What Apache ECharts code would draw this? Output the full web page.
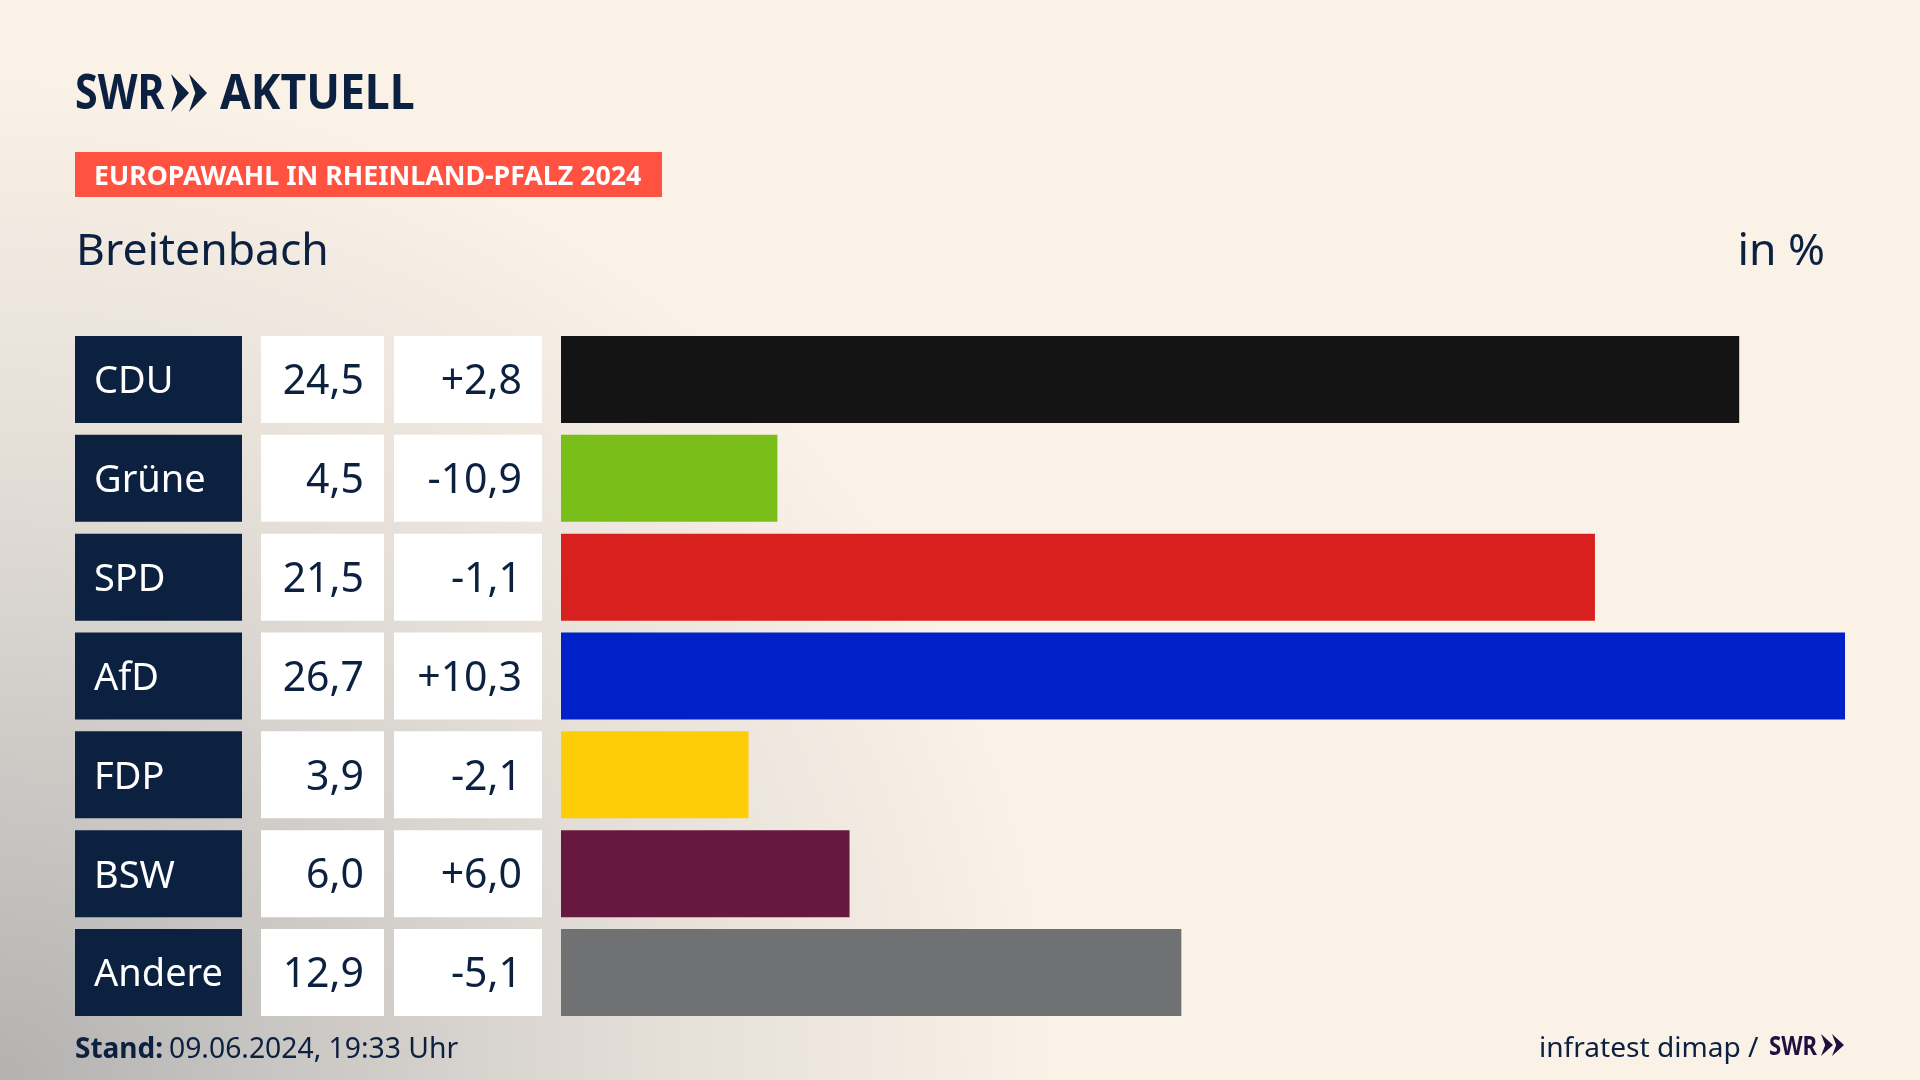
<!DOCTYPE html>
<html lang="de">
<head>
<meta charset="utf-8">
<title>Europawahl in Rheinland-Pfalz 2024 - Breitenbach</title>
<script src="https://cdn.jsdelivr.net/npm/echarts@6/dist/echarts.min.js"></script>
<style>
    html, body { margin: 0; padding: 0; }
    #chart {
        width: 1920px;
        height: 1080px;
        background-color: #faf1e7;
        background-image: radial-gradient(ellipse 1050px 1000px at 0 1080px, #b3b2b1 0%, #cfccc8 35%, #e6e0d9 65%, #faf1e7 100%);
    }
</style>
</head>
<body>
<div id="chart"></div>
<script>
// Daten
const categories = ['CDU', 'Grüne', 'SPD', 'AfD', 'FDP', 'BSW', 'Andere'];
const shares = [24.5, 4.5, 21.5, 26.7, 3.9, 6.0, 12.9];
const changes = [2.8, -10.9, -1.1, 10.3, -2.1, 6.0, -5.1];
const partyColors = ['#141414', '#7abe1a', '#d8201e', '#0020c8', '#ffcc08', '#66183e', '#707173'];

const NAVY = '#0c2040';
const FONT = '"Noto Sans", sans-serif';
const ROW_H = 87;

const fmt = v => v.toFixed(1).replace('.', ',');
const fmtChange = v => (v > 0 ? '+' : '') + fmt(v);

// Tabellenspalte links neben den Balken, Zeilenlage kommt von der Kategorieachse
function cellSeries(texts, left, right, fill, color, align, size) {
    return {
        type: 'custom',
        silent: true,
        clip: false,
        data: texts.map((t, i) => [0, i]),
        encode: { x: 0, y: 1 },
        renderItem: (params, api) => {
            const cy = api.coord([0, api.value(1)])[1];
            return {
                type: 'group',
                children: [
                    { type: 'rect', shape: { x: left, y: cy - ROW_H / 2, width: right - left, height: ROW_H }, style: { fill: fill } },
                    {
                        type: 'text',
                        style: {
                            x: align === 'left' ? left + 19 : right - 20,
                            y: cy + 3,
                            text: texts[params.dataIndex],
                            fill: color,
                            font: size + 'px ' + FONT,
                            align: align,
                            verticalAlign: 'middle'
                        }
                    }
                ]
            };
        }
    };
}

function chevrons(x, y0, y1, w, step, color) {
    const mid = (y0 + y1) / 2;
    return [0, 1].map(n => {
        const l = x + n * step;
        return {
            type: 'polygon',
            silent: true,
            shape: { points: [[l, y0], [l + w, mid], [l, y1], [l + w * 0.35, mid]] },
            style: { fill: color }
        };
    });
}

// y ist die vertikale Mitte der Zeile; sx staucht die Schrift horizontal
function label(text, x, y, font, color, align, sx) {
    return {
        type: 'text',
        silent: true,
        x: x,
        y: y,
        scaleX: sx || 1,
        style: { x: 0, y: 0, text: text, font: font, fill: color, align: align || 'left', verticalAlign: 'middle' }
    };
}

const chart = echarts.init(document.getElementById('chart'), null, { renderer: 'canvas' });

chart.setOption({
    animation: false,
    grid: { left: 561, top: 330, width: 1284, height: 692 },
    xAxis: { type: 'value', min: 0, max: 26.7, show: false },
    yAxis: { type: 'category', data: categories, inverse: true, show: false },
    series: [
        {
            type: 'bar',
            silent: true,
            barWidth: ROW_H,
            data: shares.map((v, i) => ({ value: v, itemStyle: { color: partyColors[i] } }))
        },
        cellSeries(categories, 75, 242, NAVY, '#ffffff', 'left', 38),
        cellSeries(shares.map(fmt), 261, 384, '#ffffff', NAVY, 'right', 41),
        cellSeries(changes.map(fmtChange), 394, 542, '#ffffff', NAVY, 'right', 41)
    ],
    graphic: [
        label('SWR', 75, 95, 'bold 49px ' + FONT, NAVY, 'left', 0.84),
        ...chevrons(171, 74, 112, 18, 18, NAVY),
        label('AKTUELL', 220, 95, 'bold 49px ' + FONT, NAVY, 'left', 0.91),
        { type: 'rect', silent: true, shape: { x: 75, y: 152, width: 587, height: 45 }, style: { fill: '#ff5240' } },
        label('EUROPAWAHL IN RHEINLAND-PFALZ 2024', 94, 177, 'bold 27px ' + FONT, '#ffffff', 'left', 0.99),
        label('Breitenbach', 76, 252, '44.5px ' + FONT, NAVY),
        label('in %', 1825, 252, '44.5px ' + FONT, NAVY, 'right'),
        label('Stand:', 75, 1050, 'bold 28px ' + FONT, NAVY),
        label('09.06.2024, 19:33 Uhr', 169, 1050, '28.3px ' + FONT, NAVY),
        label('infratest dimap /', 1539, 1049, '28.1px ' + FONT, NAVY),
        label('SWR', 1769, 1048, 'bold 26px ' + FONT, '#1f1040', 'left', 0.85),
        ...chevrons(1821, 1034, 1056, 12, 11, '#1f1040')
    ]
});
</script>
</body>
</html>
